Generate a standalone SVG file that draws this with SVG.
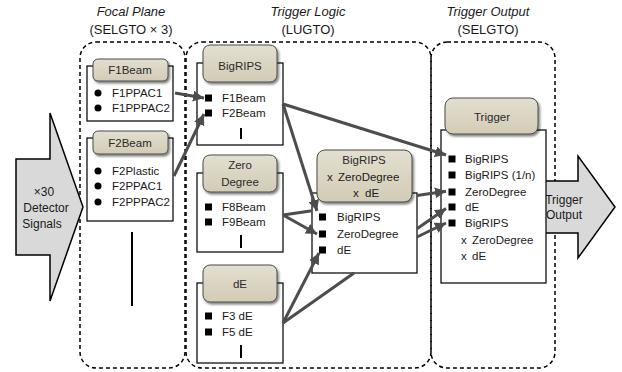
<svg xmlns="http://www.w3.org/2000/svg" width="622" height="372" viewBox="0 0 622 372">
  <style>
    text { font-family: "Liberation Sans", Arial, sans-serif; fill: #1a1a1a; }
    .title { font-size: 13px; text-anchor: middle; }
    .title-i { font-size: 13px; text-anchor: middle; font-style: italic; }
    .lbl { font-size: 11.5px; }
    .big-t { font-size: 12px; text-anchor: middle; }
    .hdr-t { font-size: 11.5px; text-anchor: middle; fill: #2a2a2a; }
    .zone { fill: none; stroke: #000; stroke-width: 1.5; stroke-dasharray: 4 3; }
    .body { fill: #fff; stroke: #111; stroke-width: 1.3; }
    .hdr { fill: url(#hdrFill); stroke: #4a4a4a; stroke-width: 1; filter: url(#shadow); }
    .sq { fill: #000; }
    .dot { fill: #000; }
    .bar { stroke: #000; stroke-width: 2; }
    .big-arrow { fill: #d9d9d9; stroke: #000; stroke-width: 1.5; stroke-linejoin: miter; }
    .link { fill: none; stroke: #4d4d4d; stroke-width: 3; marker-end: url(#head); }
  </style>
  <defs>
    <linearGradient id="hdrFill" x1="0" y1="0" x2="0" y2="1">
      <stop offset="0" stop-color="#e3dfcf"/>
      <stop offset="1" stop-color="#d2ccb6"/>
    </linearGradient>
    <filter id="shadow" x="-10%" y="-10%" width="130%" height="140%">
      <feDropShadow dx="1.5" dy="2" stdDeviation="1.2" flood-color="#000" flood-opacity="0.5"/>
    </filter>
    <marker id="head" markerUnits="userSpaceOnUse" markerWidth="12" markerHeight="11" refX="11" refY="5.5" orient="auto">
      <path d="M0,0 L11,5.5 L0,11 z" fill="#4d4d4d"/>
    </marker>
  </defs>

  <!-- zone titles -->
  <text class="title-i" x="131" y="16">Focal Plane</text>
  <text class="title" x="131" y="34">(SELGTO × 3)</text>
  <text class="title-i" x="308" y="16">Trigger Logic</text>
  <text class="title" x="308" y="34">(LUGTO)</text>
  <text class="title-i" x="488" y="16">Trigger Output</text>
  <text class="title" x="488" y="34">(SELGTO)</text>

  <!-- dashed zones -->
  <rect class="zone" x="80" y="42" width="105" height="326" rx="16"/>
  <rect class="zone" x="186" y="42" width="245" height="326" rx="16"/>
  <rect class="zone" x="431" y="42" width="124" height="326" rx="16"/>

  <!-- input / output block arrows -->
  <g id="detector-signals">
    <path class="big-arrow" d="M16,159 H50 V113 L83,207 L50,301 V255 H16 Z"/>
    <text class="big-t" x="44" y="196">×30</text>
    <text class="big-t" x="46" y="212">Detector</text>
    <text class="big-t" x="42" y="228">Signals</text>
  </g>
  <g id="trigger-output">
    <path class="big-arrow" d="M541,181 H578 V156 L615,207 L578,258 V233 H541 Z"/>
    <text class="big-t" x="564" y="204">Trigger</text>
    <text class="big-t" x="564" y="219">Output</text>
  </g>

  <!-- focal plane nodes -->
  <g id="f1beam">
    <rect class="body" x="87" y="66" width="86" height="55"/>
    <rect class="hdr" x="93" y="59" width="75" height="22" rx="5"/>
    <text class="hdr-t" x="130" y="74">F1Beam</text>
    <circle class="dot" cx="98" cy="93" r="3.5"/>
    <text class="lbl" x="112" y="97">F1PPAC1</text>
    <circle class="dot" cx="98" cy="108" r="3.5"/>
    <text class="lbl" x="112" y="112">F1PPPAC2</text>
  </g>
  <g id="f2beam">
    <rect class="body" x="87" y="138" width="86" height="83"/>
    <rect class="hdr" x="93" y="131" width="75" height="23" rx="5"/>
    <text class="hdr-t" x="130" y="147">F2Beam</text>
    <circle class="dot" cx="98" cy="171" r="3.5"/>
    <text class="lbl" x="112" y="175">F2Plastic</text>
    <circle class="dot" cx="98" cy="186" r="3.5"/>
    <text class="lbl" x="112" y="190">F2PPAC1</text>
    <circle class="dot" cx="98" cy="202" r="3.5"/>
    <text class="lbl" x="112" y="206">F2PPPAC2</text>
  </g>
  <line class="bar" x1="132" y1="232" x2="132" y2="306"/>

  <!-- trigger logic nodes -->
  <g id="bigrips">
    <rect class="body" x="197" y="63" width="86" height="82"/>
    <rect class="hdr" x="203" y="45" width="74" height="37" rx="7"/>
    <text class="hdr-t" x="240" y="70">BigRIPS</text>
    <rect class="sq" x="205" y="94.5" width="7" height="7"/>
    <text class="lbl" x="222" y="102">F1Beam</text>
    <rect class="sq" x="205" y="109.5" width="7" height="7"/>
    <text class="lbl" x="222" y="117">F2Beam</text>
    <line class="bar" x1="241" y1="128" x2="241" y2="139"/>
  </g>
  <g id="zero-degree">
    <rect class="body" x="197" y="173" width="86" height="79"/>
    <rect class="hdr" x="203" y="155" width="74" height="37" rx="7"/>
    <text class="hdr-t" x="240" y="169">Zero</text>
    <text class="hdr-t" x="240" y="186">Degree</text>
    <rect class="sq" x="205" y="203.5" width="7" height="7"/>
    <text class="lbl" x="222" y="211">F8Beam</text>
    <rect class="sq" x="205" y="218.5" width="7" height="7"/>
    <text class="lbl" x="222" y="226">F9Beam</text>
    <line class="bar" x1="241" y1="235" x2="241" y2="248"/>
  </g>
  <g id="de">
    <rect class="body" x="197" y="283" width="86" height="80"/>
    <rect class="hdr" x="203" y="265" width="74" height="37" rx="7"/>
    <text class="hdr-t" x="240" y="288">dE</text>
    <rect class="sq" x="205" y="312.5" width="7" height="7"/>
    <text class="lbl" x="222" y="320">F3 dE</text>
    <rect class="sq" x="205" y="328.5" width="7" height="7"/>
    <text class="lbl" x="222" y="336">F5 dE</text>
    <line class="bar" x1="241" y1="345" x2="241" y2="358"/>
  </g>
  <g id="coincidence">
    <rect class="body" x="312" y="193" width="105" height="80"/>
    <rect class="hdr" x="317" y="150" width="95" height="52" rx="8"/>
    <text class="hdr-t" x="364" y="164">BigRIPS</text>
    <text class="lbl" x="327" y="181">x<tspan x="338">ZeroDegree</tspan></text>
    <text class="lbl" x="353" y="197">x<tspan x="365">dE</tspan></text>
    <rect class="sq" x="319" y="213.5" width="7" height="7"/>
    <text class="lbl" x="337" y="221">BigRIPS</text>
    <rect class="sq" x="319" y="230.5" width="7" height="7"/>
    <text class="lbl" x="337" y="238">ZeroDegree</text>
    <rect class="sq" x="319" y="246.5" width="7" height="7"/>
    <text class="lbl" x="337" y="254">dE</text>
  </g>

  <!-- trigger output node -->
  <g id="trigger">
    <rect class="body" x="441" y="130" width="105" height="153"/>
    <rect class="hdr" x="445" y="98" width="93" height="36" rx="8"/>
    <text class="hdr-t" x="492" y="121">Trigger</text>
    <rect class="sq" x="448.5" y="155.5" width="7" height="7"/>
    <text class="lbl" x="465" y="163">BigRIPS</text>
    <rect class="sq" x="448.5" y="171.5" width="7" height="7"/>
    <text class="lbl" x="465" y="179">BigRIPS (1/n)</text>
    <rect class="sq" x="448.5" y="188.5" width="7" height="7"/>
    <text class="lbl" x="465" y="196">ZeroDegree</text>
    <rect class="sq" x="448.5" y="203.5" width="7" height="7"/>
    <text class="lbl" x="465" y="211">dE</text>
    <rect class="sq" x="448.5" y="219.5" width="7" height="7"/>
    <text class="lbl" x="465" y="227">BigRIPS</text>
    <text class="lbl" x="461" y="244">x<tspan x="472">ZeroDegree</tspan></text>
    <text class="lbl" x="461" y="260">x<tspan x="472">dE</tspan></text>
  </g>

  <!-- connectors -->
  <g id="connectors">
    <path class="link" d="M175,93 L204,98"/>
    <path class="link" d="M174,176 L204,114"/>
    <path class="link" d="M283,104 L446,155"/>
    <path class="link" d="M283,104 L317,211"/>
    <!-- ZeroDegree to trigger, hidden behind the coincidence box -->
    <path class="link" d="M283,215 L312,210.8 M417,195.5 L446,191.3"/>
    <path class="link" d="M283,215 L317,234"/>
    <path class="link" d="M283,323 L319,253"/>
    <!-- dE to trigger, hidden behind the coincidence box -->
    <path class="link" d="M283,323 L354,273 M417,228.8 L446,208.4"/>
    <path class="link" d="M417,237 L446,223"/>
  </g>
</svg>
